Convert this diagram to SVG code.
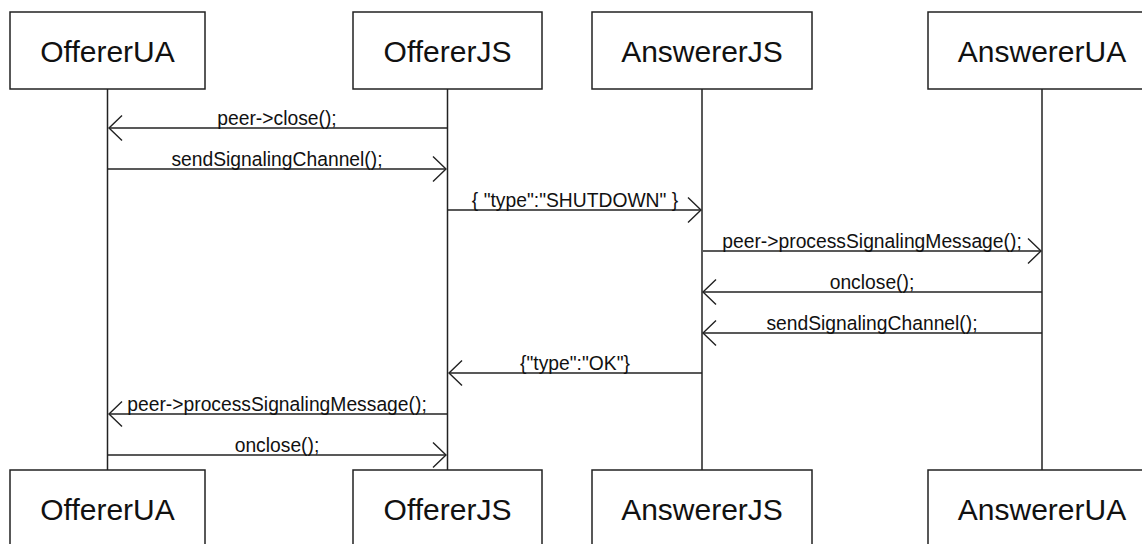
<svg xmlns="http://www.w3.org/2000/svg" width="1142" height="544" viewBox="0 0 1142 544">
  <style>
    .box { fill: #ffffff; stroke: #222222; stroke-width: 1.5; }
    .name { font-family: "Liberation Sans", Arial, sans-serif; font-size: 30px; fill: #111111; text-anchor: middle; }
    .life { stroke: #222222; stroke-width: 1.5; fill: none; }
    .msg { stroke: #222222; stroke-width: 1.4; fill: none; marker-end: url(#open); }
    .lbl { font-family: "Liberation Sans", Arial, sans-serif; font-size: 19.3px; fill: #111111; text-anchor: middle; }
  </style>
  <defs>
    <marker id="open" markerUnits="userSpaceOnUse" markerWidth="30" markerHeight="30" viewBox="-15 -15 30 30" refX="0" refY="0" orient="auto" overflow="visible">
      <path d="M-13,-12.5 L0,0 L-13,12.5" fill="none" stroke="#222222" stroke-width="1.4"/>
    </marker>
  </defs>
  <rect width="1142" height="544" fill="#ffffff"/>

  <!-- lifelines -->
  <g id="lifelines">
    <line class="life" x1="107.5" y1="89" x2="107.5" y2="470"/>
    <line class="life" x1="447.5" y1="89" x2="447.5" y2="470"/>
    <line class="life" x1="702" y1="89" x2="702" y2="470"/>
    <line class="life" x1="1042" y1="89" x2="1042" y2="470"/>
  </g>

  <!-- participants, top row -->
  <g id="offererUA-top">
    <rect class="box" x="10" y="12" width="195" height="77"/>
    <text class="name" x="107.5" y="61.5">OffererUA</text>
  </g>
  <g id="offererJS-top">
    <rect class="box" x="353" y="12" width="189" height="77"/>
    <text class="name" x="447.5" y="61.5">OffererJS</text>
  </g>
  <g id="answererJS-top">
    <rect class="box" x="592" y="12" width="220" height="77"/>
    <text class="name" x="702" y="61.5">AnswererJS</text>
  </g>
  <g id="answererUA-top">
    <rect class="box" x="928" y="12" width="228" height="77"/>
    <text class="name" x="1042" y="61.5">AnswererUA</text>
  </g>

  <!-- participants, bottom row -->
  <g id="offererUA-bottom">
    <rect class="box" x="10" y="470" width="195" height="77"/>
    <text class="name" x="107.5" y="519.5">OffererUA</text>
  </g>
  <g id="offererJS-bottom">
    <rect class="box" x="353" y="470" width="189" height="77"/>
    <text class="name" x="447.5" y="519.5">OffererJS</text>
  </g>
  <g id="answererJS-bottom">
    <rect class="box" x="592" y="470" width="220" height="77"/>
    <text class="name" x="702" y="519.5">AnswererJS</text>
  </g>
  <g id="answererUA-bottom">
    <rect class="box" x="928" y="470" width="228" height="77"/>
    <text class="name" x="1042" y="519.5">AnswererUA</text>
  </g>

  <!-- messages -->
  <g id="connectors">
    <line class="msg" x1="447" y1="128" x2="109" y2="128"/>
    <text class="lbl" x="277" y="124.5">peer-&gt;close();</text>

    <line class="msg" x1="108" y1="169" x2="446" y2="169"/>
    <text class="lbl" x="277" y="165.5">sendSignalingChannel();</text>

    <line class="msg" x1="448" y1="210" x2="701" y2="210"/>
    <text class="lbl" x="575" y="206.5">{ "type":"SHUTDOWN" }</text>

    <line class="msg" x1="703" y1="251" x2="1041" y2="251"/>
    <text class="lbl" x="872" y="247.5">peer-&gt;processSignalingMessage();</text>

    <line class="msg" x1="1042" y1="292" x2="703" y2="292"/>
    <text class="lbl" x="872" y="288.5">onclose();</text>

    <line class="msg" x1="1042" y1="333" x2="703" y2="333"/>
    <text class="lbl" x="872" y="329.5">sendSignalingChannel();</text>

    <line class="msg" x1="702" y1="373" x2="449" y2="373"/>
    <text class="lbl" x="575" y="369.5">{"type":"OK"}</text>

    <line class="msg" x1="447" y1="414" x2="109" y2="414"/>
    <text class="lbl" x="277" y="410.5">peer-&gt;processSignalingMessage();</text>

    <line class="msg" x1="108" y1="455" x2="446" y2="455"/>
    <text class="lbl" x="277" y="451.5">onclose();</text>
  </g>
</svg>
